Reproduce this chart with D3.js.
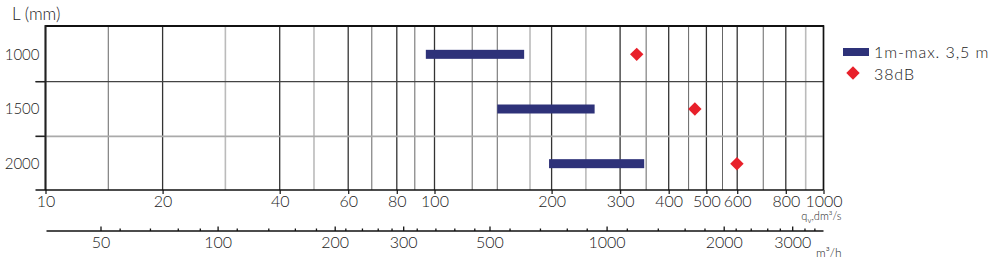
<!DOCTYPE html>
<html>
<head>
<meta charset="utf-8">
<script src="https://cdn.jsdelivr.net/npm/d3@7"></script>
<style>
    body { margin: 0; background: #fff; }
    #chart { width: 1000px; height: 263px; }
    text { font-family: "Lato", "DejaVu Sans", sans-serif; font-weight: 300; fill: #1a1a1a; }
</style>
</head>
<body>
<div id="chart"></div>
<script>

// rows (duct length L in mm)
const rowLabels = ["1000", "1500", "2000"];

// operating range per row, dm3/s
const rangeStart = [95, 145, 197];
const rangeEnd = [170, 258, 346];

// 38 dB point per row, dm3/s
const noisePoints = [331, 467, 599];

// dm3/s axis
const flowTicks = [10, 20, 40, 60, 80, 100, 200, 300, 400, 500, 600, 800, 1000];
const flowMinor = [14.5, 69, 89, 125, 145, 350, 450, 550, 700];
const flowLight = [29, 49, 176, 245, 900];

// m3/h axis
const hourTicks = [50, 100, 200, 300, 500, 1000, 2000, 3000];
const hourMinor = [56, 67, 79, 90, 112, 135, 158, 179, 213, 235, 258, 280, 325, 363, 406, 457,
    563, 674, 790, 889, 1127, 1354, 1587, 1785, 2147, 2347, 2588, 2788, 3226, 3421];

const legendLabels = ["1m-max. 3,5 m", "38dB"];


class NomogramChart {

    constructor(parentElement) {
        this.parentElement = parentElement;
        this.initVis();
    }

    initVis() {
        let vis = this;

        vis.width = 1000;
        vis.height = 263;

        vis.svg = d3.select("#" + vis.parentElement).append("svg")
            .attr("width", vis.width)
            .attr("height", vis.height);

        // scales
        vis.x = d3.scaleLog().domain([10, 1000]).range([45.5, 823.5]);
        vis.xHour = d3.scaleLog().domain([36, 3600]).range([45.5, 823.5]);
        vis.y = d3.scaleBand().domain(rowLabels).range([27, 191]).padding(0);

        vis.updateVis();
    }

    updateVis() {
        let vis = this;
        let x0 = vis.x.range()[0], x1 = vis.x.range()[1];
        let yTop = 26, yBottom = 190;

        // vertical grid
        let grid = vis.svg.append("g").attr("class", "grid");

        grid.selectAll(".light").data(flowLight).enter().append("line")
            .attr("x1", d => vis.x(d)).attr("x2", d => vis.x(d))
            .attr("y1", yTop).attr("y2", yBottom)
            .attr("stroke", "#bbb").attr("stroke-width", 1.6);

        grid.selectAll(".minor").data(flowMinor).enter().append("line")
            .attr("x1", d => vis.x(d)).attr("x2", d => vis.x(d))
            .attr("y1", yTop).attr("y2", yBottom)
            .attr("stroke", "#666").attr("stroke-width", 1);

        grid.selectAll(".major").data(flowTicks).enter().append("line")
            .attr("x1", d => vis.x(d)).attr("x2", d => vis.x(d))
            .attr("y1", yTop).attr("y2", yBottom)
            .attr("stroke", "#333").attr("stroke-width", 1.3);

        // horizontal row boundaries
        let bounds = rowLabels.slice(1).map(d => vis.y(d));
        grid.selectAll(".hline").data(bounds).enter().append("line")
            .attr("x1", x0 - 10).attr("x2", x1)
            .attr("y1", d => d).attr("y2", d => d)
            .attr("stroke", (d, i) => i === 0 ? "#444" : "#aaa")
            .attr("stroke-width", (d, i) => i === 0 ? 1.2 : 1.6);
        grid.selectAll(".htick").data(bounds).enter().append("line")
            .attr("x1", x0 - 10).attr("x2", x0)
            .attr("y1", d => d).attr("y2", d => d)
            .attr("stroke", "#222").attr("stroke-width", 1.4);

        // frame
        vis.svg.append("line")
            .attr("x1", x0).attr("x2", x1).attr("y1", yTop).attr("y2", yTop)
            .attr("stroke", "#111").attr("stroke-width", 2);
        vis.svg.append("line")
            .attr("x1", x0).attr("x2", x0).attr("y1", yTop - 1).attr("y2", yBottom)
            .attr("stroke", "#222").attr("stroke-width", 2);
        vis.svg.append("line")
            .attr("x1", x1).attr("x2", x1).attr("y1", yTop - 1).attr("y2", yBottom)
            .attr("stroke", "#111").attr("stroke-width", 1.5);

        // bars
        vis.svg.selectAll(".bar").data(rowLabels).enter().append("rect")
            .attr("class", "bar")
            .attr("x", (d, i) => vis.x(rangeStart[i]))
            .attr("width", (d, i) => vis.x(rangeEnd[i]) - vis.x(rangeStart[i]))
            .attr("y", d => vis.y(d) + vis.y.bandwidth() / 2 - 4.5)
            .attr("height", 9)
            .attr("fill", "#2e3279");

        // diamonds
        vis.svg.selectAll(".dot").data(rowLabels).enter().append("path")
            .attr("class", "dot")
            .attr("d", d3.symbol().type(d3.symbolSquare).size(90))
            .attr("transform", (d, i) => `translate(${vis.x(noisePoints[i])},${vis.y(d) + vis.y.bandwidth() / 2}) rotate(45)`)
            .attr("fill", "#e8202a");

        // y labels
        vis.svg.append("text")
            .attr("x", 12).attr("y", 20)
            .style("font-size", "17px")
            .text("L (mm)");

        vis.svg.selectAll(".ylabel").data(rowLabels).enter().append("text")
            .attr("class", "ylabel")
            .attr("x", x0 - 6)
            .attr("y", d => vis.y(d) + vis.y.bandwidth() / 2)
            .attr("dy", "0.35em")
            .attr("text-anchor", "end")
            .style("font-size", "15px")
            .text(d => d);

        // dm3/s axis
        let xAxis = vis.svg.append("g")
            .attr("class", "axis axis--x")
            .attr("transform", "translate(0," + yBottom + ")")
            .call(d3.axisBottom(vis.x).tickValues(flowTicks).tickSize(4).tickPadding(2).tickFormat(d3.format("d")));
        xAxis.select(".domain").remove();
        xAxis.selectAll(".tick line").attr("stroke", "#222").attr("stroke-width", 1.3);
        xAxis.selectAll(".tick text").style("font-size", "16px").style("font-family", null).attr("fill", null);
        vis.svg.append("line")
            .attr("x1", x0 - 10).attr("x2", x1).attr("y1", yBottom).attr("y2", yBottom)
            .attr("stroke", "#111").attr("stroke-width", 1.6);

        let unit1 = vis.svg.append("text")
            .attr("x", x1 + 18).attr("y", 220)
            .attr("text-anchor", "end")
            .style("font-size", "11px");
        unit1.append("tspan").text("q");
        unit1.append("tspan").attr("dy", 3).style("font-size", "8px").text("v");
        unit1.append("tspan").attr("dy", -3).text(",dm³/s");

        // m3/h axis
        let yHour = 231;
        let hAxis = vis.svg.append("g")
            .attr("class", "axis axis--h")
            .attr("transform", "translate(0," + yHour + ")");
        hAxis.append("line")
            .attr("x1", x0 + 1).attr("x2", x1).attr("y1", 0).attr("y2", 0)
            .attr("stroke", "#111").attr("stroke-width", 1.5);
        hAxis.selectAll(".mtick").data(hourMinor).enter().append("line")
            .attr("x1", d => vis.xHour(d)).attr("x2", d => vis.xHour(d))
            .attr("y1", 0).attr("y2", -2.5)
            .attr("stroke", "#111").attr("stroke-width", 1.3);
        hAxis.selectAll(".Mtick").data(hourTicks).enter().append("line")
            .attr("x1", d => vis.xHour(d)).attr("x2", d => vis.xHour(d))
            .attr("y1", 0).attr("y2", -4.5)
            .attr("stroke", "#111").attr("stroke-width", 1.3);
        hAxis.selectAll(".hlabel").data(hourTicks).enter().append("text")
            .attr("x", d => vis.xHour(d))
            .attr("y", 17)
            .attr("text-anchor", "middle")
            .style("font-size", "16px")
            .text(d => d);

        vis.svg.append("text")
            .attr("x", x1 + 18).attr("y", 257)
            .attr("text-anchor", "end")
            .style("font-size", "12px")
            .text("m³/h");

        // legend
        let legend = vis.svg.append("g").attr("class", "legend")
            .attr("transform", "translate(843,52)");
        legend.append("rect")
            .attr("x", 0).attr("y", -4).attr("width", 26).attr("height", 8)
            .attr("fill", "#2e3279");
        legend.append("path")
            .attr("d", d3.symbol().type(d3.symbolSquare).size(90))
            .attr("transform", "translate(10,21) rotate(45)")
            .attr("fill", "#e8202a");
        legend.selectAll(".ltext").data(legendLabels).enter().append("text")
            .attr("x", 31)
            .attr("y", (d, i) => i * 22)
            .attr("dy", "0.35em")
            .style("font-size", "16px")
            .style("letter-spacing", "0.9px")
            .text(d => d);
    }
}

new NomogramChart("chart");
</script>
</body>
</html>
